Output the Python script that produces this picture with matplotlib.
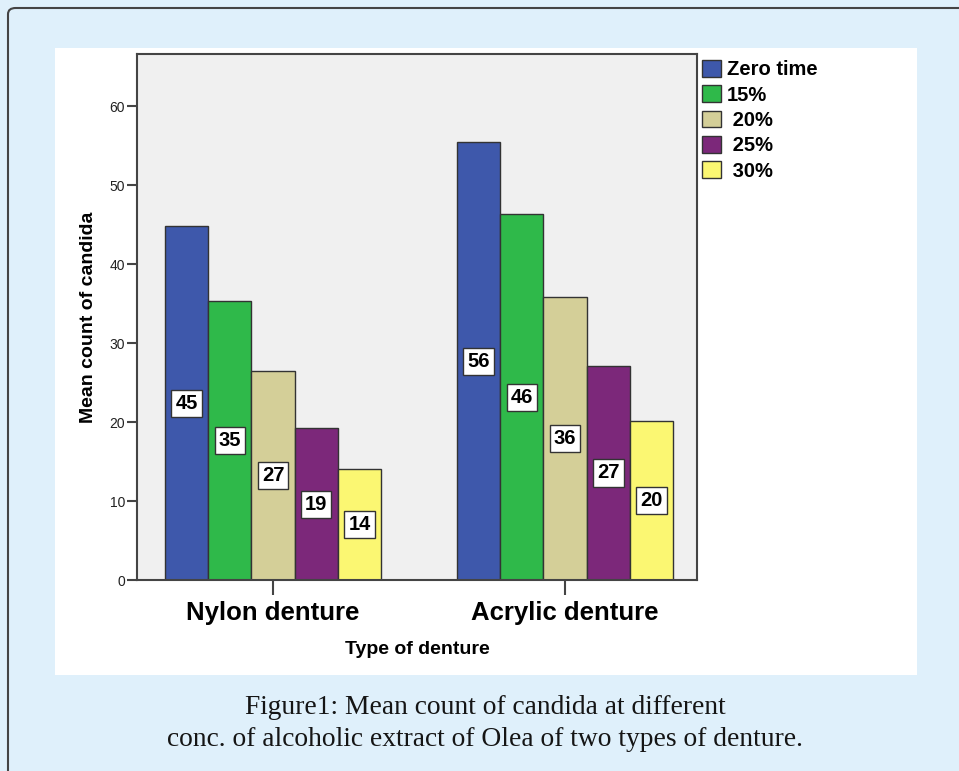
import matplotlib.pyplot as plt
from matplotlib.patches import FancyBboxPatch, Rectangle
import numpy as np

plt.rcParams['font.family'] = ['Liberation Sans', 'DejaVu Sans']

# data
dentures = ['Nylon denture', 'Acrylic denture']
series_names = ['Zero time', '15%', ' 20%', ' 25%', ' 30%']
bar_heights = [
    [44.8, 55.4],   # zero time
    [35.3, 46.3],   # 15%
    [26.5, 35.8],   # 20%
    [19.2, 27.1],   # 25%
    [14.1, 20.1],   # 30%
]
bar_labels = [
    ['45', '56'],
    ['35', '46'],
    ['27', '36'],
    ['19', '27'],
    ['14', '20'],
]
colors = ['#3e58ab', '#2fb94a', '#d4cf98', '#7c287a', '#fbf772']
yticks = [0, 10, 20, 30, 40, 50, 60]

fig = plt.figure(figsize=(9.59, 7.71), dpi=100)
fig.patch.set_facecolor('#dff0fb')

# outer frame and white panel (behind the axes)
frame = FancyBboxPatch((8 / 959, -0.05), 1.2, 1 - 8 / 771 + 0.05,
                       boxstyle='round,pad=0,rounding_size=0.008',
                       transform=fig.transFigure, facecolor='#dff0fb',
                       edgecolor='#444444', linewidth=1.5, zorder=-2)
fig.patches.append(frame)
panel = Rectangle((55 / 959, 1 - 675 / 771), (917 - 55) / 959, (675 - 48) / 771,
                  transform=fig.transFigure, facecolor='white', edgecolor='none', zorder=-1)
fig.patches.append(panel)

ax = fig.add_axes([137 / 959, 1 - 580 / 771, (697 - 137) / 959, (580 - 54) / 771])
ax.set_facecolor('#f0f0f0')

x = np.arange(len(dentures))
width = 0.148
for i, (name, vals, col) in enumerate(zip(series_names, bar_heights, colors)):
    pos = x + (i - 2) * width
    ax.bar(pos, vals, width, color=col, edgecolor='#333333', linewidth=1.0,
           label=name, zorder=2)
    for p, v, lab in zip(pos, vals, bar_labels[i]):
        ax.text(p, v / 2, lab, ha='center', va='center', fontsize=14.5,
                fontweight='bold', color='black', zorder=3,
                bbox=dict(boxstyle='square,pad=0.2', facecolor='white',
                          edgecolor='#333333', linewidth=1.0))

ax.set_xlim(-0.466, 1.452)
ax.set_ylim(0, 66.6)
ax.set_yticks(yticks)
ax.set_xticks(x)
ax.set_xticklabels(dentures, fontsize=18.5, fontweight='bold')
ax.tick_params(axis='y', labelsize=10, labelcolor='#222222', length=7.5,
               width=1.5, color='#444444', pad=1)
ax.tick_params(axis='x', length=11, width=1.5, color='#444444', pad=4)
for s in ax.spines.values():
    s.set_color('#444444')
    s.set_linewidth(1.5)

ax.set_ylabel('Mean count of candida', fontsize=14, fontweight='bold', labelpad=9)
ax.set_xlabel('Type of denture', fontsize=14, fontweight='bold', labelpad=12)

fig.legend(loc='upper left', bbox_to_anchor=(702 / 959, 1 - 60 / 771),
           frameon=False, prop={'size': 14.5, 'weight': 'bold'},
           handlelength=0.95, handleheight=0.9, handletextpad=0.3,
           labelspacing=0.3, borderaxespad=0, borderpad=0)

fig.text(485 / 959, 1 - 707 / 771, 'Figure1: Mean count of candida at different',
         ha='center', va='center', fontsize=19.8, family='Liberation Serif', color='#151515')
fig.text(485 / 959, 1 - 740 / 771, 'conc. of alcoholic extract of Olea of two types of denture.',
         ha='center', va='center', fontsize=19.8, family='Liberation Serif', color='#151515')

fig.savefig('out.png', dpi=100, facecolor=fig.get_facecolor())
